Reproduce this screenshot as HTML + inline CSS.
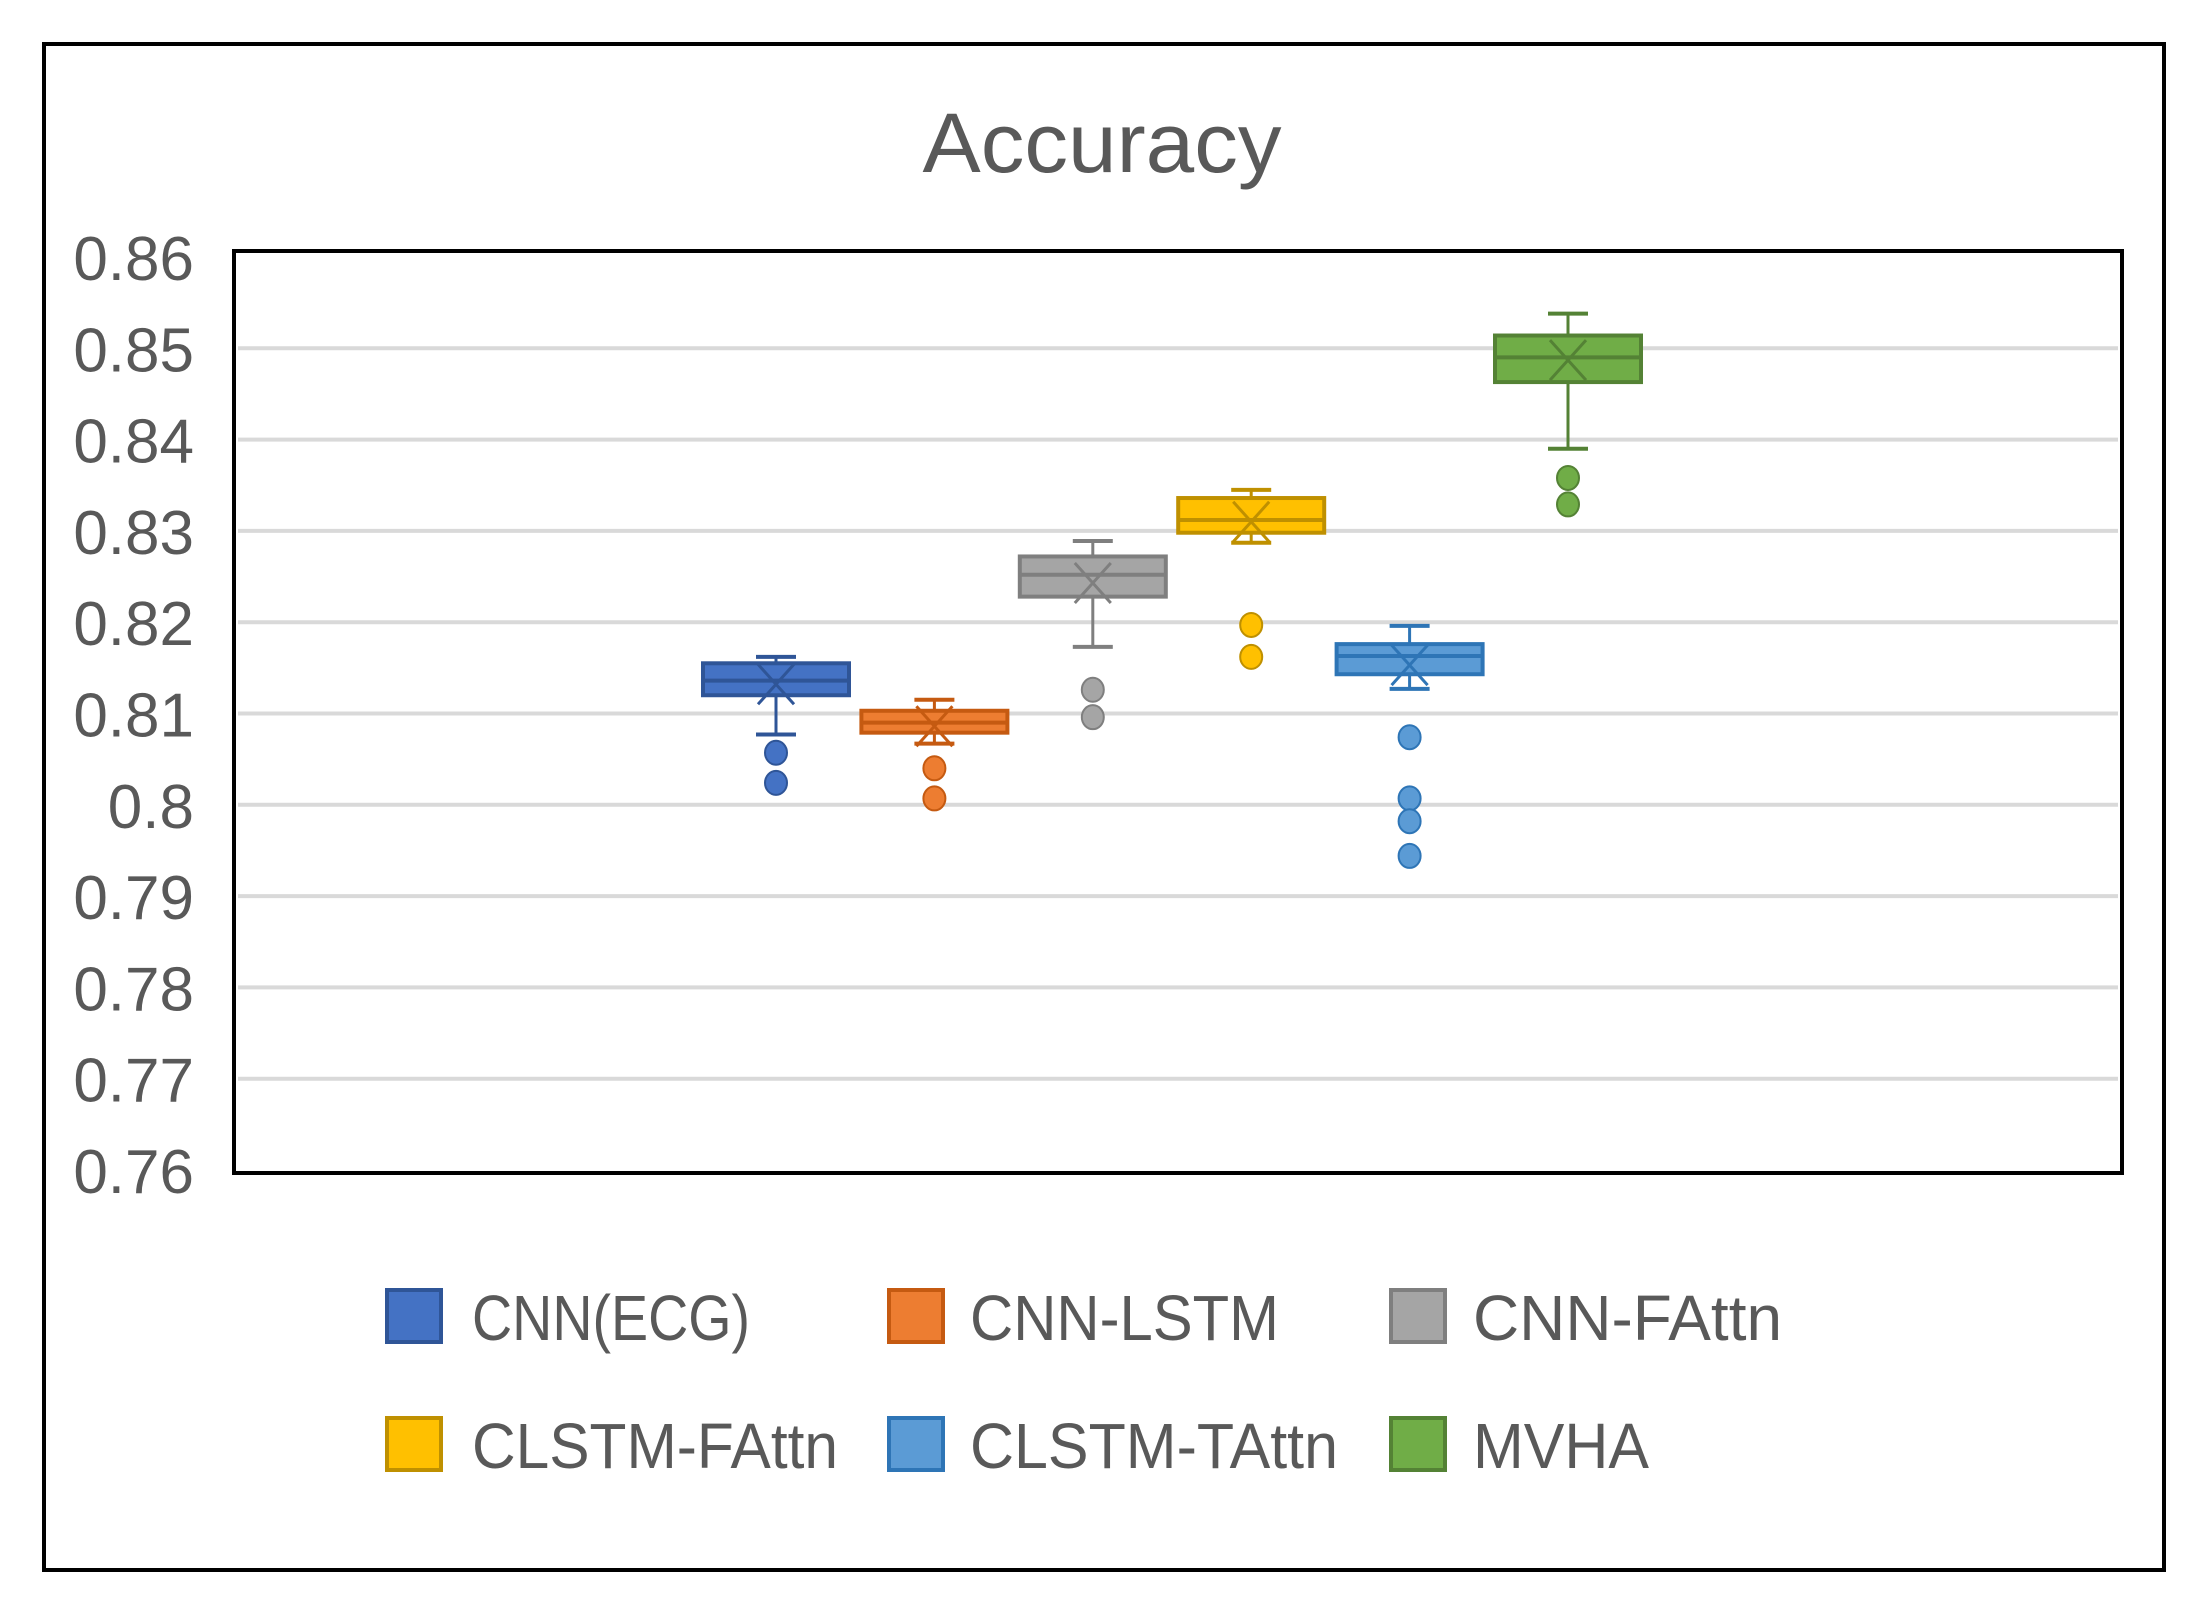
<!DOCTYPE html>
<html><head><meta charset="utf-8"><style>
html,body{margin:0;padding:0;background:#fff;}
svg{display:block;font-family:"Liberation Sans",sans-serif;}
</style></head><body>
<svg id="chart" width="2204" height="1619" viewBox="0 0 2204 1619" xmlns="http://www.w3.org/2000/svg">
<rect x="44" y="44" width="2120" height="1526" fill="#fff" stroke="#000" stroke-width="4"/>
<text x="1102" y="172" font-size="84" fill="#595959" text-anchor="middle" textLength="359" lengthAdjust="spacingAndGlyphs">Accuracy</text>
<g id="grid"></g>
<g id="yticks"></g>
<rect x="234" y="251" width="1888" height="922" fill="none" stroke="#000" stroke-width="4"/>
<g id="boxes"></g>
<g id="legend"></g>
</svg>
<script>
const categories = ["CNN(ECG)","CNN-LSTM","CNN-FAttn","CLSTM-FAttn","CLSTM-TAttn","MVHA"];
const whiskerLow  = [0.8077,0.8067,0.8173,0.8287,0.8127,0.8390];
const q1          = [0.8120,0.8079,0.8228,0.8298,0.8143,0.8463];
const medians     = [0.8136,0.8090,0.8252,0.8312,0.8163,0.8490];
const q3          = [0.8155,0.8103,0.8272,0.8336,0.8176,0.8514];
const whiskerHigh = [0.8162,0.8115,0.8289,0.8345,0.8196,0.8538];
const means       = [0.8132,0.8086,0.8243,0.8310,0.8153,0.8487];
const outliers    = [[0.8057,0.8024],[0.8040,0.8007],[0.8126,0.8096],[0.8197,0.8162],[0.8074,0.8007,0.7982,0.7944],[0.8358,0.8329]];
const yTicks = [0.86,0.85,0.84,0.83,0.82,0.81,0.80,0.79,0.78,0.77,0.76];
const yTickLabels = ["0.86","0.85","0.84","0.83","0.82","0.81","0.8","0.79","0.78","0.77","0.76"];
const fills = ["#4472C4","#ED7D31","#A5A5A5","#FFC000","#5B9BD5","#70AD47"];
const strokes = ["#2F5597","#C55A11","#7F7F7F","#BF9000","#2E75B6","#548235"];

const NS="http://www.w3.org/2000/svg";
function y(v){return 257+(0.86-v)/0.10*913;}
function x(i){return 776+i*158.4;}
function mk(tag,attrs,parent){const e=document.createElementNS(NS,tag);for(const k in attrs)e.setAttribute(k,attrs[k]);parent.appendChild(e);return e;}
const grid=document.getElementById('grid'),yt=document.getElementById('yticks'),bx=document.getElementById('boxes'),lg=document.getElementById('legend');
yTicks.forEach((t,i)=>{
  if(i>0&&i<yTicks.length-1){
    const l=mk('line',{x1:238,x2:2118,y1:y(t),y2:y(t),stroke:'#d9d9d9','stroke-width':4},grid);
    
    
  }
  const tx=mk('text',{x:194,y:y(t)+23,'font-size':62,fill:'#595959','text-anchor':'end'},yt);
  tx.textContent=yTickLabels[i];
  
  
});
const bw=146;
categories.forEach((c,i)=>{
  const g=mk('g',{},bx);
  
  
  const cx=x(i),s=strokes[i],f=fills[i];
  mk('line',{x1:cx,x2:cx,y1:y(whiskerHigh[i]),y2:y(q3[i]),stroke:s,'stroke-width':3},g);
  mk('line',{x1:cx,x2:cx,y1:y(q1[i]),y2:y(whiskerLow[i]),stroke:s,'stroke-width':3},g);
  mk('line',{x1:cx-20,x2:cx+20,y1:y(whiskerHigh[i]),y2:y(whiskerHigh[i]),stroke:s,'stroke-width':4},g);
  mk('line',{x1:cx-20,x2:cx+20,y1:y(whiskerLow[i]),y2:y(whiskerLow[i]),stroke:s,'stroke-width':4},g);
  mk('rect',{x:cx-bw/2,y:y(q3[i]),width:bw,height:y(q1[i])-y(q3[i]),fill:f,stroke:s,'stroke-width':4},g);
  mk('line',{x1:cx-bw/2,x2:cx+bw/2,y1:y(medians[i]),y2:y(medians[i]),stroke:s,'stroke-width':4},g);
  const my=y(means[i]);
  mk('path',{d:`M${cx-18} ${my-20}L${cx+18} ${my+20}M${cx+18} ${my-20}L${cx-18} ${my+20}`,stroke:s,'stroke-width':3,fill:'none'},g);
  outliers[i].forEach(o=>{
    const d=mk('ellipse',{cx:cx,cy:y(o),rx:11,ry:12,fill:f,stroke:s,'stroke-width':2},g);
    
    
  });
});
const legX=[385,887,1389], legTX=[472,970,1473], legW=[278,309,309,366,368,176];
categories.forEach((c,i)=>{
  const col=i%3,row=Math.floor(i/3);
  const sy=1288+row*128;
  const g=mk('g',{},lg);
  
  
  mk('rect',{x:legX[col]+2,y:sy+2,width:54,height:52,fill:fills[i],stroke:strokes[i],'stroke-width':4},g);
  const t=mk('text',{x:legTX[col],y:sy+52,'font-size':64,fill:'#595959',textLength:legW[i],lengthAdjust:'spacingAndGlyphs'},g);
  t.textContent=c;
});
</script>
</body></html>
